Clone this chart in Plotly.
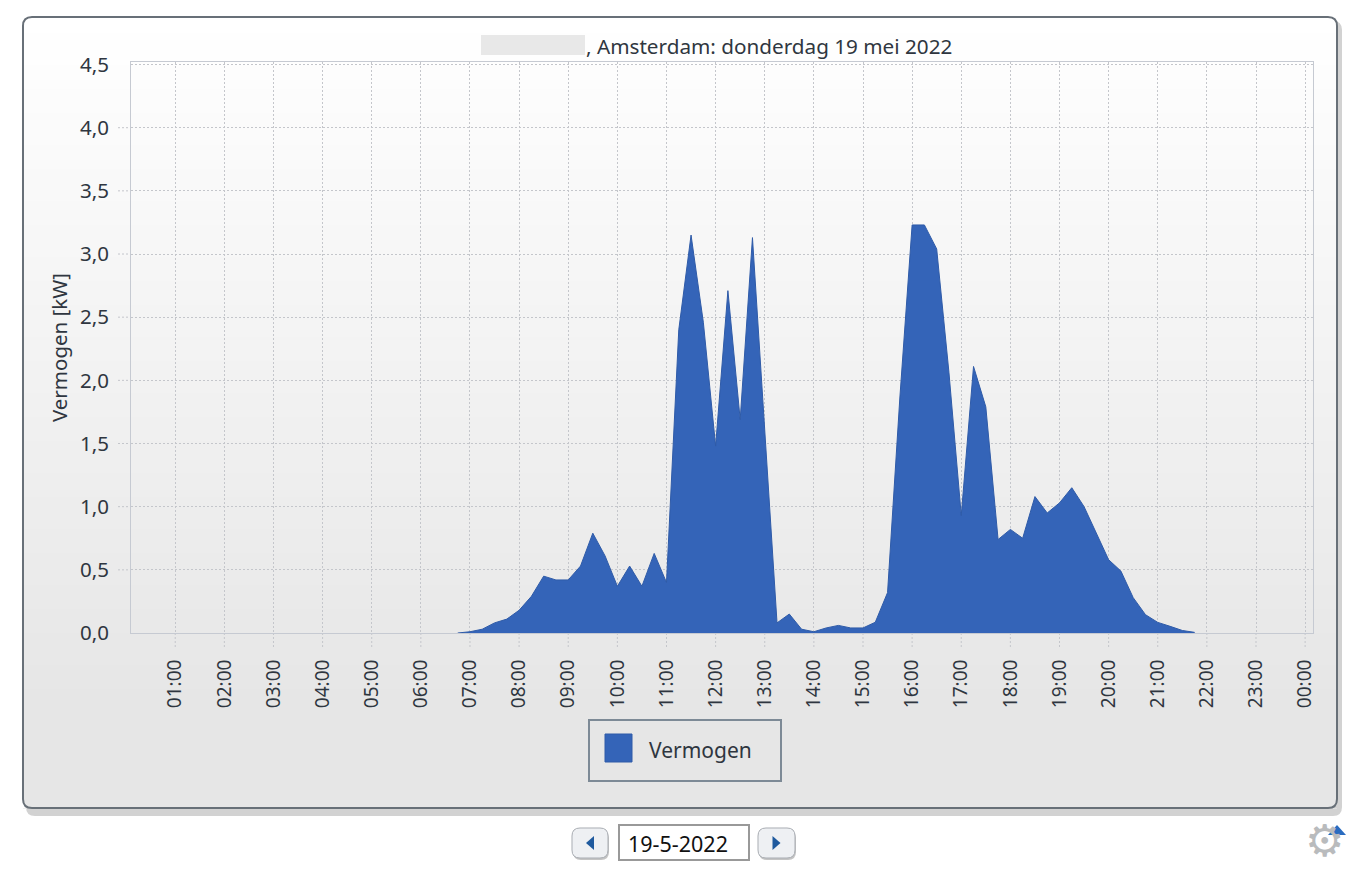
import plotly.graph_objects as go

W, H = 1366, 892
PL, PR, PT, PB = 131, 1313, 62, 633
FONT = "Noto Sans"
INK = "#2f3640"

times = ["06:45","07:00","07:15","07:30","07:45","08:00","08:15","08:30","08:45","09:00","09:15","09:30","09:45",
         "10:00","10:15","10:30","10:45","11:00","11:15","11:30","11:45","12:00","12:15","12:30","12:45",
         "13:00","13:15","13:30","13:45","14:00","14:15","14:30","14:45","15:00","15:15","15:30","15:45",
         "16:00","16:15","16:30","16:45","17:00","17:15","17:30","17:45","18:00","18:15","18:30","18:45",
         "19:00","19:15","19:30","19:45","20:00","20:15","20:30","20:45","21:00","21:15","21:30","21:45"]
vermogen = [0.00,0.01,0.03,0.08,0.11,0.18,0.29,0.45,0.42,0.42,0.53,0.79,0.61,
            0.37,0.53,0.37,0.63,0.40,2.40,3.15,2.46,1.48,2.71,1.69,3.13,
            1.61,0.08,0.15,0.03,0.01,0.04,0.06,0.04,0.04,0.085,0.32,1.86,
            3.23,3.23,3.04,2.06,0.93,2.11,1.79,0.74,0.82,0.75,1.08,0.95,
            1.03,1.15,1.00,0.79,0.58,0.49,0.28,0.145,0.084,0.053,0.02,0.005]
hour_labels = ["01:00","02:00","03:00","04:00","05:00","06:00","07:00","08:00","09:00","10:00","11:00","12:00",
               "13:00","14:00","15:00","16:00","17:00","18:00","19:00","20:00","21:00","22:00","23:00","00:00"]
y_ticks = [0, 0.5, 1, 1.5, 2, 2.5, 3, 3.5, 4, 4.5]

def hours(t):
    h, m = t.split(":")
    return int(h) + int(m) / 60

x_vals = [hours(t) for t in times]
hour_pos = [i + 1 for i in range(len(hour_labels))]

# "paper" coordinates are relative to the plot area
def px(x): return (x - PL) / (PR - PL)
def py(y): return (PB - y) / (PB - PT)

def rect(x0, y0, x1, y1, fill=None, line=None, lw=1, layer="below"):
    return dict(type="rect", xref="paper", yref="paper", x0=px(x0), x1=px(x1), y0=py(y0), y1=py(y1),
                fillcolor=fill or "rgba(0,0,0,0)", line=dict(color=line or "rgba(0,0,0,0)", width=lw if line else 0),
                layer=layer)

def path(d, fill=None, line=None, lw=1, layer="below"):
    return dict(type="path", xref="paper", yref="paper", path=d,
                fillcolor=fill or "rgba(0,0,0,0)", line=dict(color=line or "rgba(0,0,0,0)", width=lw if line else 0),
                layer=layer)

def P(x, y): return f"{px(x):.6f},{py(y):.6f}"

def rrect_path(x0, y0, x1, y1, r):
    return (f"M{P(x0+r,y0)} L{P(x1-r,y0)} Q{P(x1,y0)} {P(x1,y0+r)} L{P(x1,y1-r)} Q{P(x1,y1)} {P(x1-r,y1)} "
            f"L{P(x0+r,y1)} Q{P(x0,y1)} {P(x0,y1-r)} L{P(x0,y0+r)} Q{P(x0,y0)} {P(x0+r,y0)} Z")

def corner(cx, cy, dx, dy, r):
    return (f"M{P(cx,cy)} L{P(cx+dx*r,cy)} Q{P(cx,cy)} {P(cx,cy+dy*r)} Z")

shapes = []
L, T, R, B, RAD = 23, 17, 1337, 808, 9
# drop shadow
shapes.append(path(rrect_path(L + 3, T + 4, R + 5, B + 8, RAD), fill="#d2d2d2"))
# panel gradient
BAND = 8
y = T
while y < B:
    f = min(1, (y - T) / (700 - T))
    c = round(255 - 25 * f)
    shapes.append(rect(L, y, R, min(y + BAND, B) + 0.6, fill=f"rgb({c},{c},{c})"))
    y += BAND
# corners
for cx, cy, dx, dy, col in [(L, T, 1, 1, "#ffffff"), (R, T, -1, 1, "#ffffff"),
                            (L, B, 1, -1, "#ffffff"), (R, B, -1, -1, "#d2d2d2")]:
    shapes.append(path(corner(cx, cy, dx, dy, RAD), fill=col))
shapes.append(path(rrect_path(L, T, R, B, RAD), line="#687078", lw=2))

# anonymised part of the title
shapes.append(rect(481, 35, 585, 55, fill="#e8e8e8"))

# dotted grid stubs beyond the plot area
GRID = "#c4c6cb"
DOT = "2px,2px"
for h in hour_pos:
    shapes.append(dict(type="line", xref="x", yref="paper", x0=h, x1=h, y0=py(633), y1=py(648),
                       line=dict(color=GRID, width=1, dash=DOT), layer="below"))
for v in y_ticks[1:-1]:
    shapes.append(dict(type="line", xref="paper", yref="y", x0=px(118), x1=px(131), y0=v, y1=v,
                       line=dict(color=GRID, width=1, dash=DOT), layer="below"))

# legend box
shapes.append(rect(589, 720, 781, 781, line="#7d8a96", lw=2))
shapes.append(rect(605, 734, 632, 762, fill="#3464b8", line="#2f5ba8", lw=1))

# date controls
for x0, x1, tri in [(572, 608, "left"), (758, 795, "right")]:
    shapes.append(path(rrect_path(x0 + 1, 830, x1 + 1, 860, 8), fill="#c4c4c4"))
    shapes.append(path(rrect_path(x0, 828, x1, 858, 8), fill="#eef0f3", line="#a9adb3", lw=1))
    m = (x0 + x1) / 2
    if tri == "left":
        d = f"M{P(m+4,836)} L{P(m+4,850)} L{P(m-4,843)} Z"
    else:
        d = f"M{P(m-4,836)} L{P(m-4,850)} L{P(m+4,843)} Z"
    shapes.append(path(d, fill="#1f5a9e"))
shapes.append(rect(619, 825, 749, 860, fill="#ffffff", line="#999999", lw=2))
# blue marker on the settings gear
shapes.append(path(f"M{P(1328,835)} L{P(1346,835)} L{P(1337,825)} Z", fill="#2a6cc0", layer="above"))

annotations = [
    dict(text=", Amsterdam: donderdag 19 mei 2022", x=px(584), y=py(46), xref="paper", yref="paper",
         xanchor="left", yanchor="middle", showarrow=False, font=dict(family=FONT, size=20.7, color=INK)),
    dict(text="Vermogen", x=px(647), y=py(750), xref="paper", yref="paper", xanchor="left", yanchor="middle",
         showarrow=False, font=dict(family=FONT, size=21, color=INK)),
    dict(text="19-5-2022", x=px(678), y=py(843), xref="paper", yref="paper", xanchor="center", yanchor="middle",
         showarrow=False, font=dict(family=FONT, size=21.5, color="#111111")),
    dict(text="⚙", x=px(1324), y=py(840), xref="paper", yref="paper", xanchor="center", yanchor="middle",
         showarrow=False, font=dict(family="DejaVu Sans", size=44, color="#b9bbbd")),
]

fig = go.Figure(go.Scatter(
    x=x_vals, y=vermogen, name="Vermogen", mode="lines", fill="tozeroy",
    fillcolor="#3464b8", line=dict(color="#2f5ba8", width=1), showlegend=False,
))

fig.update_layout(
    width=W, height=H, autosize=False,
    margin=dict(l=PL, r=W - PR, t=PT, b=H - PB, pad=0),
    paper_bgcolor="#ffffff", plot_bgcolor="rgba(0,0,0,0)",
    separators=",.", showlegend=False,
    shapes=shapes, annotations=annotations,
    font=dict(family=FONT, size=20, color=INK),
    xaxis=dict(range=[0.1, 24.16], tickmode="array", tickvals=hour_pos, ticktext=hour_labels,
               tickangle=-90, ticks="outside", ticklen=18, tickcolor="rgba(0,0,0,0)",
               showgrid=True, gridcolor=GRID, griddash=DOT, gridwidth=1, zeroline=False,
               showline=True, linecolor="#c6cad2", linewidth=1, mirror=True,
               tickfont=dict(family=FONT, size=19, color=INK)),
    yaxis=dict(range=[0, 4.52], tickmode="array", tickvals=y_ticks, tickformat=".1f",
               ticks="outside", ticklen=17, tickcolor="rgba(0,0,0,0)",
               showgrid=True, gridcolor=GRID, griddash=DOT, gridwidth=1, zeroline=False,
               showline=True, linecolor="#c6cad2", linewidth=1, mirror=True,
               tickfont=dict(family=FONT, size=20.5, color=INK),
               title=dict(text="Vermogen [kW]", standoff=6, font=dict(family=FONT, size=20.5, color=INK))),
)

fig.write_html("out.html", config=dict(displayModeBar=False),
               post_script="document.body.style.margin='0';document.body.style.overflow='hidden';")
